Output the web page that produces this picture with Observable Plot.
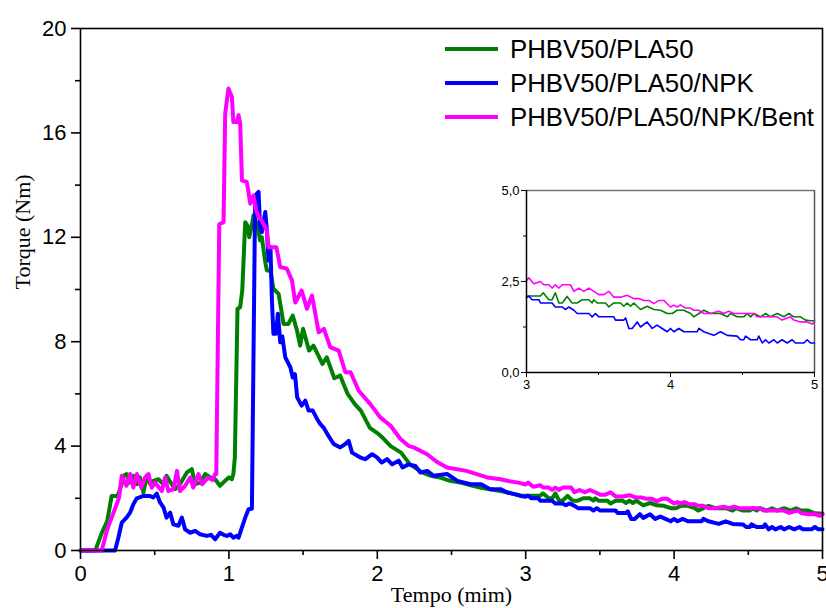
<!DOCTYPE html>
<html><head><meta charset="utf-8">
<script src="https://cdn.jsdelivr.net/npm/d3@7"></script>
<script src="https://cdn.jsdelivr.net/npm/@observablehq/plot@0.6"></script>
<style>
body{margin:0;background:#fff;}
#wrap{position:relative;width:826px;height:608px;overflow:hidden;background:#fff;}
#inset{position:absolute;left:490px;top:180px;}
#legend{position:absolute;left:445px;top:32px;font-family:"Liberation Sans",Arial,sans-serif;font-size:25.8px;color:#000;}
.item{display:flex;align-items:center;height:34px;white-space:nowrap;}
.swatch{width:53px;height:4px;margin-right:12px;}
</style></head>
<body><div id="wrap"><div id="legend"></div></div>
<script>
// ---- data ----
const seriesNames = ["PHBV50/PLA50", "PHBV50/PLA50/NPK", "PHBV50/PLA50/NPK/Bent"];
const seriesColors = ["#008000", "#0000ff", "#ff00ff"];

const greenT = [0,0.10,0.14,0.18,0.21,0.25,0.278,0.29,0.31,0.33,0.356,0.38,0.40,0.424,0.447,0.47,0.49,0.525,0.559,0.58,0.60,0.638,0.67,0.717,0.75,0.773,0.806,0.84,0.874,0.907,0.94,0.974,1.00,1.02,1.03,1.04,1.058,1.076,1.09,1.11,1.126,1.137,1.155,1.166,1.177,1.19,1.21,1.222,1.245,1.256,1.28,1.30,1.335,1.357,1.368,1.40,1.43,1.459,1.48,1.50,1.54,1.57,1.63,1.66,1.71,1.75,1.80,1.85,1.89,1.95,2.0,2.04,2.09,2.16,2.22,2.30,2.36,2.42,2.49,2.56,2.63,2.70,2.76,2.83,2.90,2.97,
 3.0,3.097,3.116,3.155,3.178,3.2,3.225,3.248,3.282,3.317,3.352,3.387,3.433,3.456,3.468,3.491,3.549,3.572,3.606,3.653,3.676,3.699,3.722,3.745,3.792,3.838,3.884,3.931,3.977,4.012,4.046,4.093,4.139,4.162,4.197,4.231,4.278,4.347,4.394,4.417,4.463,4.509,4.532,4.556,4.579,4.625,4.66,4.694,4.741,4.787,4.822,4.856,4.903,4.938,4.972,5.0];
const greenV = [0,0,0.63,1.13,2.09,2.09,2.54,2.86,2.93,2.6,2.86,2.54,2.8,2.22,2.86,2.54,2.67,2.73,2.54,2.86,2.67,2.35,2.54,2.99,3.12,2.54,2.6,2.93,2.8,2.73,2.48,2.67,2.8,2.73,2.93,3.56,9.26,9.32,9.96,12.58,12.45,12.0,12.45,12.84,12.65,12.52,11.88,12.0,11.05,10.73,10.73,10.03,9.83,9.07,8.68,8.68,9.0,8.43,7.85,8.5,7.66,7.85,7.15,7.4,6.6,6.7,6.0,5.6,5.35,4.7,4.5,4.3,4.0,3.75,3.3,3.0,2.86,2.8,2.67,2.6,2.5,2.4,2.35,2.28,2.2,2.1,
 2.1,2.1,2.19,2.0,2.0,2.19,1.91,1.91,2.09,1.91,1.91,2.0,2.0,1.91,2.0,1.91,1.91,1.8,1.91,1.91,1.82,1.91,1.82,1.91,1.73,1.82,1.73,1.71,1.62,1.62,1.71,1.71,1.62,1.53,1.62,1.71,1.62,1.62,1.53,1.62,1.53,1.53,1.62,1.53,1.62,1.53,1.62,1.53,1.62,1.53,1.62,1.53,1.53,1.44,1.42,1.42];

const blueT = [0,0.233,0.255,0.278,0.31,0.334,0.356,0.38,0.424,0.469,0.49,0.514,0.536,0.559,0.58,0.604,0.626,0.66,0.683,0.705,0.739,0.773,0.806,0.85,0.88,0.907,0.94,0.965,0.987,1.01,1.03,1.054,1.065,1.11,1.132,1.155,1.177,1.2,1.21,1.222,1.245,1.256,1.267,1.28,1.29,1.30,1.317,1.33,1.346,1.36,1.38,1.414,1.43,1.445,1.46,1.49,1.515,1.537,1.565,1.594,1.615,1.638,1.67,1.706,1.75,1.785,1.807,1.83,1.886,1.92,1.965,2.0,2.03,2.066,2.1,2.145,2.17,2.21,2.257,2.29,2.336,2.38,2.47,2.54,2.628,2.70,2.76,2.83,2.876,2.93,2.966,
 3.0,3.016,3.039,3.086,3.097,3.178,3.2,3.248,3.271,3.294,3.329,3.352,3.433,3.456,3.479,3.502,3.606,3.618,3.676,3.688,3.711,3.734,3.769,3.792,3.838,3.873,3.907,3.942,3.977,4.0,4.023,4.058,4.093,4.185,4.197,4.231,4.301,4.347,4.394,4.463,4.486,4.509,4.521,4.556,4.602,4.613,4.637,4.66,4.683,4.718,4.741,4.775,4.81,4.845,4.868,4.926,4.949,4.972,5.0];
const blueV = [0,0,0.49,1.07,1.26,1.45,1.77,2.0,2.09,2.09,2.03,2.18,1.84,1.65,1.26,1.45,1.0,0.95,1.26,0.81,0.68,0.75,0.62,0.56,0.6,0.43,0.68,0.6,0.56,0.62,0.49,0.56,0.49,1.26,1.58,1.6,13.6,13.74,12.39,12.2,12.97,12.26,11.11,11.62,9.58,8.3,8.3,9.07,7.98,8.2,7.4,7.02,6.63,6.76,5.87,5.55,5.74,5.36,5.36,5.04,4.85,4.71,4.4,4.08,3.95,4.08,4.2,3.75,3.56,3.5,3.69,3.56,3.37,3.5,3.3,3.44,3.18,3.3,3.24,2.99,3.05,2.86,2.93,2.67,2.54,2.54,2.35,2.35,2.22,2.15,2.09,
 2.06,2.1,2.0,2.0,1.91,1.91,1.8,1.8,1.73,1.8,1.71,1.62,1.62,1.53,1.62,1.53,1.53,1.44,1.44,1.5,1.21,1.21,1.39,1.25,1.39,1.21,1.3,1.21,1.12,1.21,1.12,1.21,1.12,1.12,1.21,1.12,1.02,1.12,1.02,1.0,0.9,0.9,1.0,0.9,0.9,1.0,0.81,0.9,0.81,0.9,0.81,0.9,0.81,0.9,0.81,0.81,0.9,0.81,0.81];

const pinkT = [0,0.143,0.177,0.21,0.244,0.26,0.278,0.31,0.334,0.356,0.38,0.41,0.435,0.458,0.48,0.503,0.548,0.57,0.592,0.626,0.65,0.67,0.705,0.74,0.76,0.795,0.82,0.86,0.89,0.907,0.915,0.935,0.964,0.975,0.997,1.02,1.03,1.054,1.065,1.076,1.088,1.12,1.13,1.144,1.166,1.18,1.2,1.22,1.256,1.267,1.32,1.346,1.39,1.425,1.447,1.49,1.526,1.56,1.605,1.64,1.683,1.74,1.785,1.82,1.875,1.953,2.02,2.09,2.156,2.21,2.245,2.336,2.40,2.47,2.6,2.74,2.83,2.876,2.95,
 3.0,3.016,3.051,3.097,3.12,3.155,3.178,3.2,3.225,3.248,3.306,3.329,3.363,3.398,3.433,3.468,3.502,3.537,3.572,3.606,3.653,3.699,3.745,3.78,3.815,3.85,3.884,3.919,3.954,3.977,4.0,4.023,4.046,4.069,4.104,4.139,4.162,4.197,4.231,4.278,4.336,4.37,4.405,4.44,4.579,4.602,4.741,4.775,4.833,4.856,4.903,4.949,4.984,5.0];
const pinkV = [0,0,0.75,1.26,1.78,2.03,2.86,2.48,2.93,2.41,2.93,2.41,2.8,2.93,2.41,2.6,2.28,2.8,2.28,2.35,3.05,2.28,2.48,2.8,2.41,2.93,2.54,2.8,2.7,2.93,2.93,12.5,12.58,16.74,17.7,17.38,16.42,16.42,16.68,16.36,14.18,14.12,13.8,13.29,13.6,13.1,12.78,12.65,12.26,11.62,11.62,10.86,10.8,10.35,9.5,9.96,9.26,9.77,8.36,8.49,7.79,7.66,6.83,6.83,6.12,5.61,5.1,4.78,4.27,4.01,3.95,3.69,3.4,3.18,3.05,2.8,2.73,2.67,2.6,
 2.53,2.6,2.44,2.5,2.41,2.41,2.32,2.41,2.32,2.41,2.41,2.23,2.32,2.23,2.32,2.23,2.14,2.14,2.23,2.07,2.07,2.12,2.03,2.03,1.98,1.98,1.89,1.98,1.98,1.89,1.8,1.85,1.8,1.86,1.77,1.77,1.71,1.71,1.62,1.62,1.68,1.62,1.68,1.62,1.62,1.53,1.53,1.44,1.53,1.44,1.39,1.39,1.33,1.39];

const xMajor = [0,1,2,3,4,5];
const xMinor = [0.5,1.5,2.5,3.5,4.5];
const yMajor = [0,4,8,12,16,20];
const yMinor = [2,6,10,14,18];
const insetXMajor = [3,4,5];
const insetXMinor = [3.5,4.5];
const insetYMajor = [0,2.5,5];
const insetYMinor = [1.25,3.75];

// ---- build ----
const seriesT = [greenT, blueT, pinkT];
const seriesV = [greenV, blueV, pinkV];
const rows = seriesT.map((ts, k) => ts.map((t, i) => ({t, v: seriesV[k][i]})));

const sans = "'Liberation Sans', Arial, sans-serif";
const serif = "'Liberation Serif', 'Times New Roman', serif";

const main = Plot.plot({
  width: 826, height: 608,
  marginLeft: 80, marginRight: 4, marginTop: 28, marginBottom: 58,
  x: {domain: [0, 5]},
  y: {domain: [0, 20]},
  style: {fontFamily: sans, fontSize: "22px", color: "#000", background: "#fff"},
  marks: [
    ...rows.map((r, k) => Plot.line(r, {x: "t", y: "v", stroke: seriesColors[k], strokeWidth: 4, strokeLinejoin: "round"})),
    Plot.frame({stroke: "#000", strokeWidth: 1.6}),
    Plot.axisX({ticks: xMajor, tickSize: 9, tickPadding: 6, tickFormat: d => String(d), label: null, strokeWidth: 1.6}),
    Plot.axisX({ticks: xMinor, tickSize: 5, tickFormat: () => "", label: null, strokeWidth: 1.6}),
    Plot.axisY({ticks: yMajor, tickSize: 9, tickPadding: 5, tickFormat: d => String(d), label: null, strokeWidth: 1.6}),
    Plot.axisY({ticks: yMinor, tickSize: 5, tickFormat: () => "", label: null, strokeWidth: 1.6}),
    Plot.text(["Tempo (mim)"], {frameAnchor: "bottom", dy: 51, fontFamily: serif, fontSize: 22, text: d => d}),
    Plot.text(["Torque (Nm)"], {frameAnchor: "left", dx: -58, rotate: -90, fontFamily: serif, fontSize: 22, text: d => d})
  ]
});
document.getElementById("wrap").prepend(main);

const insetRows = rows.map(r => r.filter(d => d.t >= 3));
const comma = d => d.toFixed(1).replace(".", ",");
const inset = Plot.plot({
  width: 330, height: 215,
  marginLeft: 36, marginRight: 6, marginTop: 10, marginBottom: 23,
  x: {domain: [3, 5]},
  y: {domain: [0, 5]},
  style: {fontFamily: sans, fontSize: "13px", color: "#000", background: "transparent"},
  marks: [
    Plot.ruleY([5], {stroke: "#777", strokeWidth: 1.5}),
    Plot.ruleX([5], {stroke: "#555", strokeWidth: 1.5}),
    ...insetRows.map((r, k) => Plot.line(r, {x: "t", y: "v", stroke: seriesColors[k], strokeWidth: 1.6})),
    Plot.ruleX([3], {stroke: "#000", strokeWidth: 1.5}),
    Plot.ruleY([0], {stroke: "#000", strokeWidth: 1.5}),
    Plot.axisX({ticks: insetXMajor, tickSize: 5, tickPadding: 2, tickFormat: d => String(d), label: null}),
    Plot.axisX({ticks: insetXMinor, tickSize: 3, tickFormat: () => "", label: null}),
    Plot.axisY({ticks: insetYMajor, tickSize: 5, tickPadding: 2, tickFormat: comma, label: null}),
    Plot.axisY({ticks: insetYMinor, tickSize: 3, tickFormat: () => "", label: null})
  ]
});
inset.id = "inset";
document.getElementById("wrap").appendChild(inset);

const legend = document.getElementById("legend");
seriesNames.forEach((name, k) => {
  const item = document.createElement("div");
  item.className = "item";
  const sw = document.createElement("span");
  sw.className = "swatch";
  sw.style.background = seriesColors[k];
  const label = document.createElement("span");
  label.textContent = name;
  item.append(sw, label);
  legend.appendChild(item);
});
</script></body></html>
